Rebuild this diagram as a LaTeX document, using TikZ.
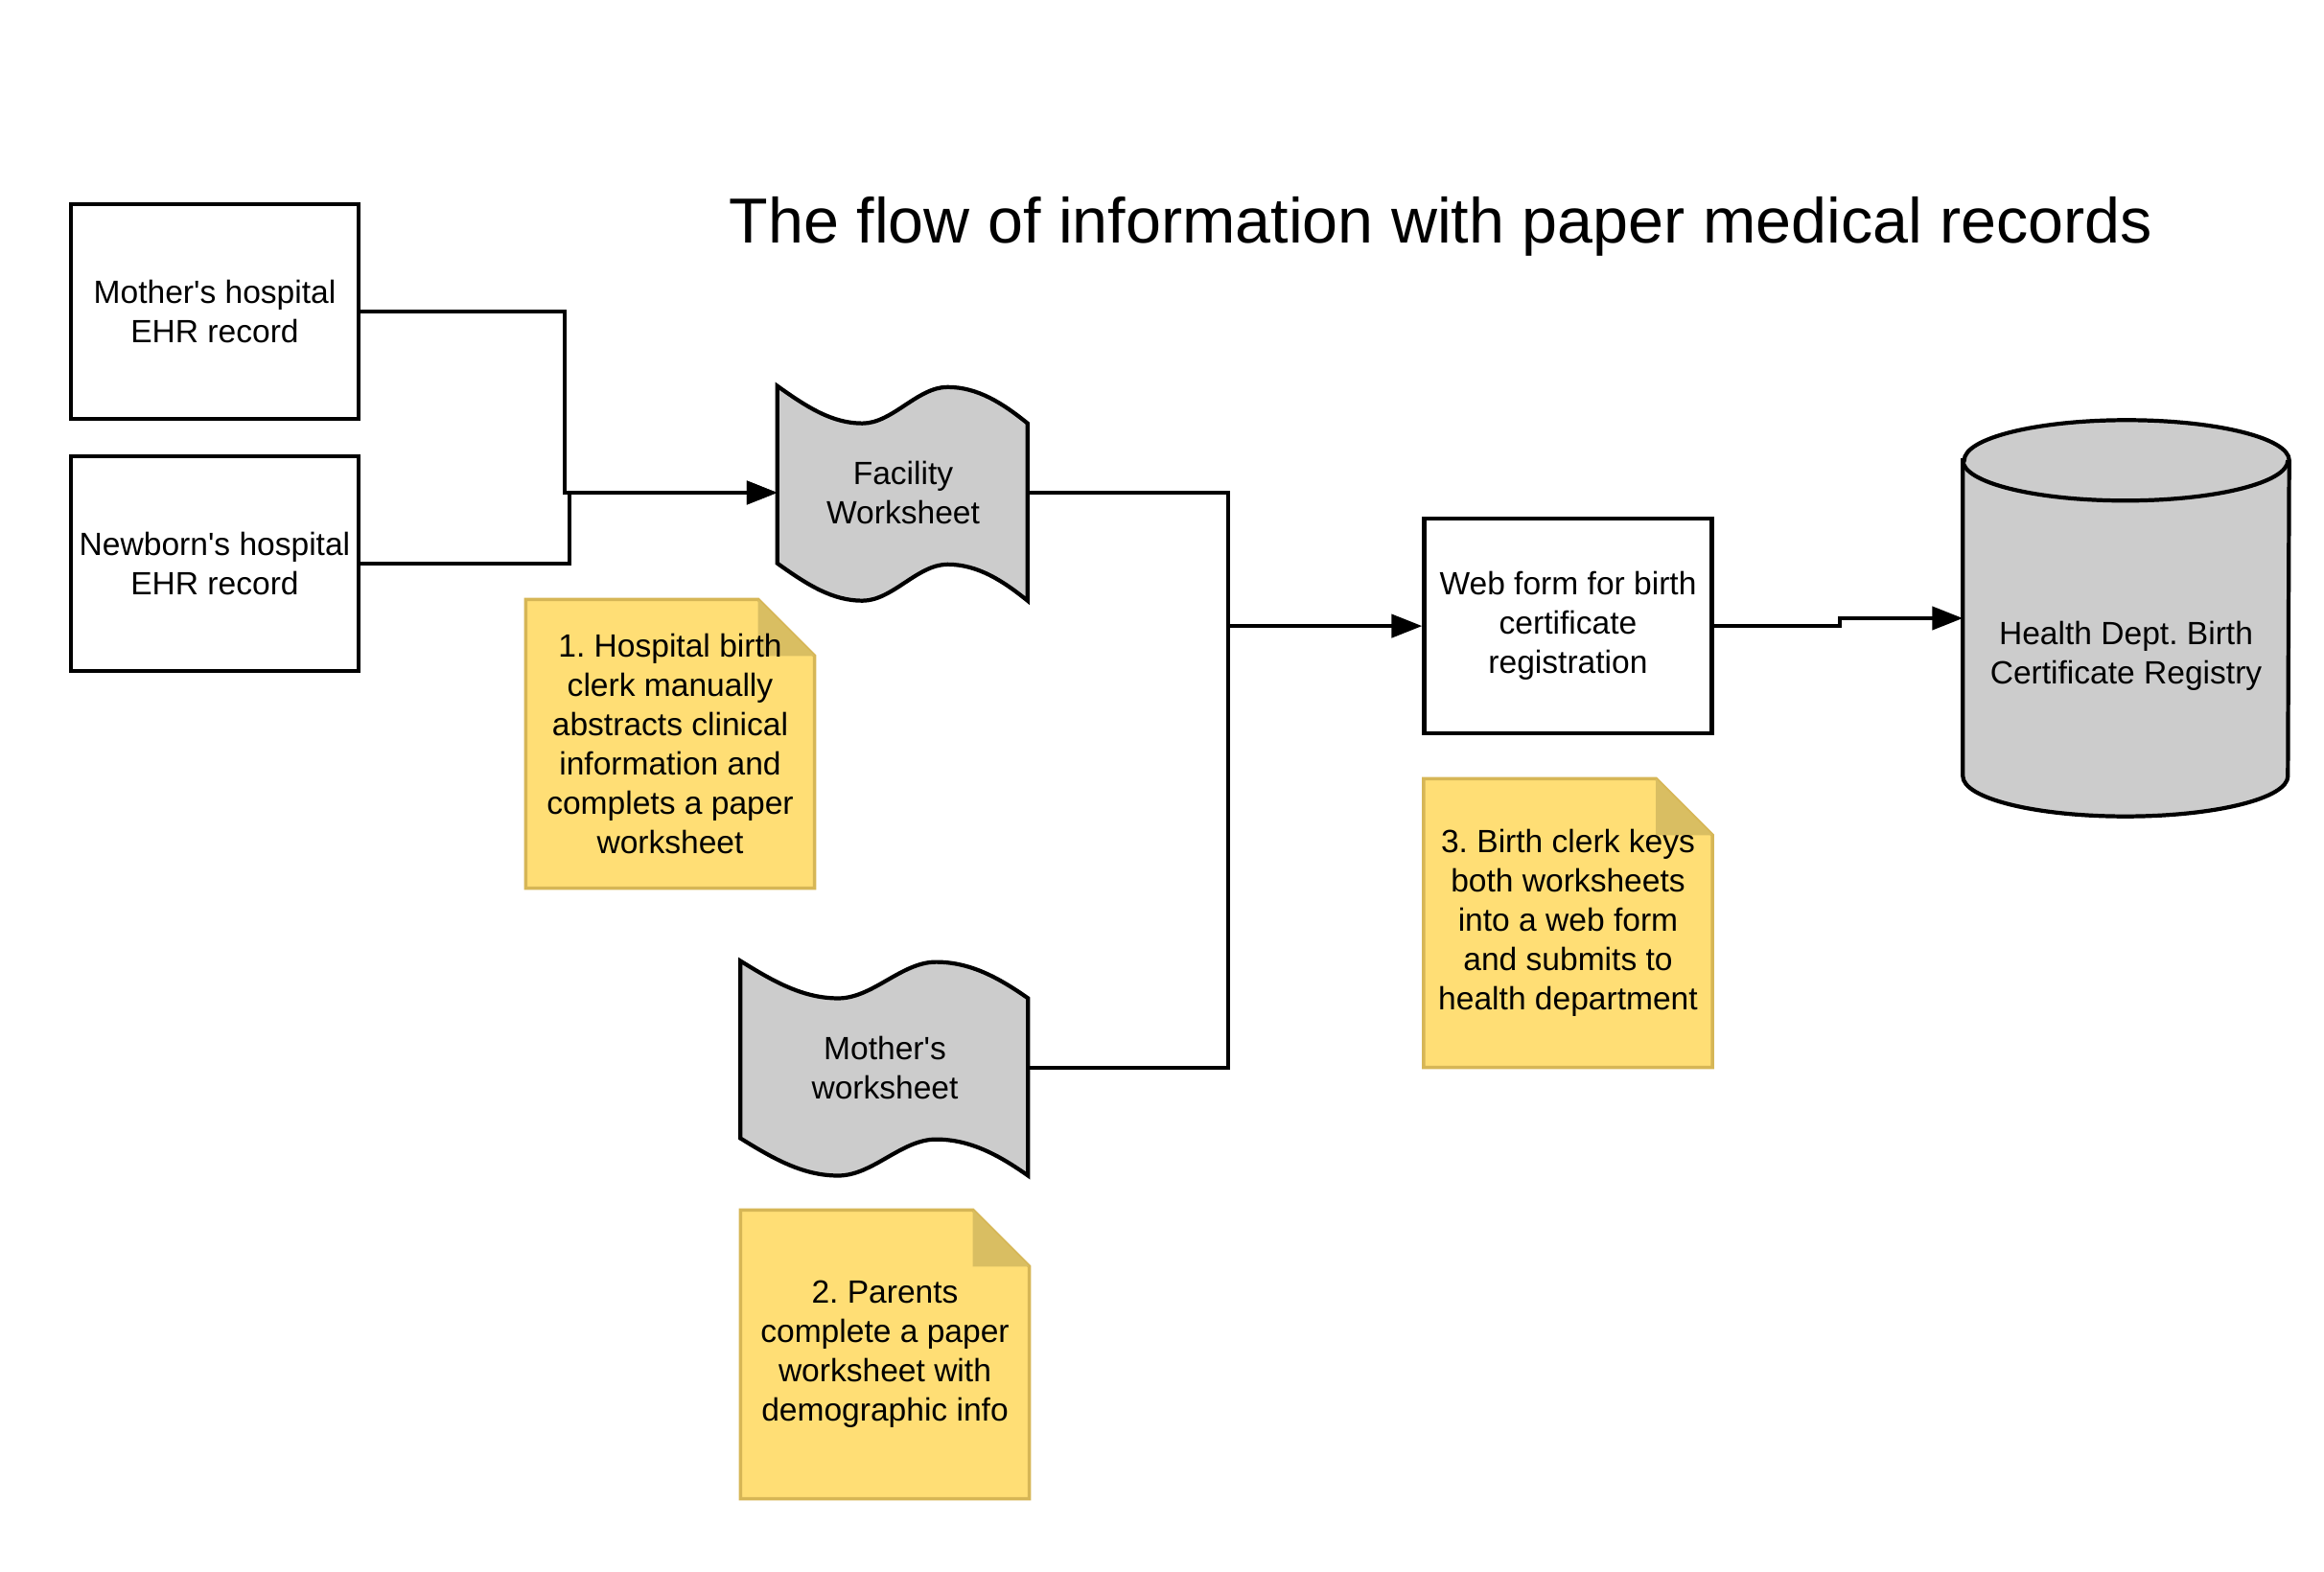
\documentclass[tikz,border=0pt]{standalone}
\usepackage{fontspec}
\setmainfont{Liberation Sans}
\usetikzlibrary{positioning,arrows.meta,backgrounds}

\definecolor{sheetgray}{HTML}{CCCCCC}
\definecolor{noteyellow}{HTML}{FFDE75}
\definecolor{noteborder}{HTML}{D6B656}
\definecolor{notefold}{HTML}{D9BE62}

\tikzset{
	record/.style={draw, line width=1.2pt, minimum width=3cm, minimum height=2.24cm, inner sep=0pt, align=center},
	sheettext/.style={inner sep=0pt, minimum height=2.24cm, align=center},
	sheet/.style={draw, line width=1.2pt, fill=sheetgray},
	note/.style={minimum width=3cm, minimum height=3cm, inner sep=0pt, align=center},
	notebox/.style={draw=noteborder, line width=1pt, fill=noteyellow},
	flow/.style={line width=1.2pt},
	feed/.style={-{Triangle[length=3.2mm,width=2.4mm]}}
}

% wavy worksheet outline behind a node: name, width, height
\newcommand{\wavesheet}[3]{%
	\draw[sheet, shift={(#1.south west)}, xscale=#2, yscale=#3]
		(0,1) .. controls (0.12,0.9) and (0.22,0.826) .. (0.34,0.826)
		.. controls (0.46,0.826) and (0.56,0.995) .. (0.68,0.995)
		.. controls (0.8,0.995) and (0.9,0.92) .. (1,0.826)
		-- (1,0)
		.. controls (0.9,0.094) and (0.8,0.169) .. (0.68,0.169)
		.. controls (0.56,0.169) and (0.46,0) .. (0.34,0)
		.. controls (0.22,0) and (0.12,0.074) .. (0,0.174) -- cycle;}

% note with a folded corner behind a node
\newcommand{\notesheet}[1]{%
	\draw[notebox] (#1.south west) -- (#1.north west) -- ([xshift=-0.59cm]#1.north east)
		-- ([yshift=-0.59cm]#1.north east) -- (#1.south east) -- cycle;
	\fill[notefold] ([xshift=-0.59cm]#1.north east) -- ([yshift=-0.59cm]#1.north east)
		-- ([xshift=-0.59cm,yshift=-0.59cm]#1.north east) -- cycle;}

\begin{document}
\begin{tikzpicture}[node distance=3cm, on grid, font=\fontsize{9.55}{11.7}\selectfont\frenchspacing]

		\useasboundingbox (0,0) rectangle (24.24,16.39);

		% Title
		\node[font=\fontsize{18.9}{23}\selectfont] (title) at (15.03,14.03)
			{The flow of information with paper medical records};

		% Record 1
		\node[record] (mother) at (2.24,13.136) {Mother\textquotesingle s hospital\\EHR record};

		% Record 2
		\node[record,
			below = 2.628cm of mother] (newborn) {Newborn\textquotesingle s hospital\\EHR record};

		% Worksheet 1
		\node[sheettext,
			minimum width=2.61cm,
			below right = 1.886cm and 7.18cm of mother] (facility) {Facility\\Worksheet};

		% Note 1
		\node[note,
			below left = 2.62cm and 2.43cm of facility] (note1)
			{1. Hospital birth\\clerk manually\\abstracts clinical\\information and\\complets a paper\\worksheet};

		% Worksheet 2
		\node[sheettext,
			minimum width=3cm,
			below left = 5.998cm and 0.19cm of facility] (mws) {Mother\textquotesingle s\\worksheet};

		% Note 2
		\node[note,
			below = 2.992cm of mws] (note2)
			{2. Parents\\complete a paper\\worksheet with\\demographic info};

		% Web form
		\node[record,
			above right = 4.607cm and 7.125cm of mws] (web) {Web form for birth\\certificate\\registration};

		% Note 3
		\node[note,
			below = 3.099cm of web] (note3)
			{3. Birth clerk keys\\both worksheets\\into a web form\\and submits to\\health department};

		% Registry
		\node[minimum width=3.39cm, minimum height=4.12cm, inner sep=0pt,
			above right = 0.081cm and 5.82cm of web] (reg) {};
		\node[align=center, yshift=-0.39cm] (regtext) at (reg.center) {Health Dept. Birth\\Certificate Registry};

		\begin{scope}[on background layer]
			\wavesheet{facility}{2.61}{2.24}
			\wavesheet{mws}{3}{2.24}
			\notesheet{note1}
			\notesheet{note2}
			\notesheet{note3}
			\draw[sheet] ([yshift=-0.42cm]reg.north west) -- ([yshift=0.42cm]reg.south west)
				arc[start angle=180, end angle=360, x radius=1.695cm, y radius=0.42cm]
				-- ([yshift=-0.42cm]reg.north east)
				arc[start angle=0, end angle=180, x radius=1.695cm, y radius=0.42cm] -- cycle;
			\draw[sheet, fill=none] ([yshift=-0.42cm]reg.north west)
				arc[start angle=180, end angle=360, x radius=1.695cm, y radius=0.42cm];
		\end{scope}

		\coordinate[right = 2.075cm of facility.east] (joint);

		\draw[flow, feed] (mother.east) -- ++(2.127,0) |- (facility.west);
		\draw[flow, feed] (newborn.east) -- ++(2.18,0) |- (facility.west);
		\draw[flow] (facility.east) -- (joint) |- (mws.east);
		\draw[flow, feed] (joint |- web.west) -- (web.west);
		\draw[flow, feed] (web.east) -- ++(1.315,0) |- (reg.west);
	\end{tikzpicture}
\end{document}
